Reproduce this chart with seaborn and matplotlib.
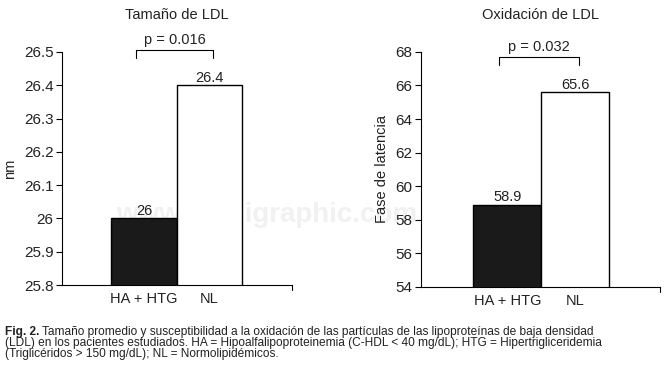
import matplotlib
matplotlib.use('Agg')
import matplotlib.pyplot as plt
import seaborn as sns
import pandas as pd

groups = ['HA + HTG', 'NL']
size_nm = [26.0, 26.4]
size_labels = ['26', '26.4']
latency = [58.9, 65.6]
latency_labels = ['58.9', '65.6']
size_ticks = [25.8, 25.9, 26.0, 26.1, 26.2, 26.3, 26.4, 26.5]
size_ticklabels = ['25.8', '25.9', '26', '26.1', '26.2', '26.3', '26.4', '26.5']
latency_ticks = [54, 56, 58, 60, 62, 64, 66, 68]

sns.set_style('white')
plt.rcParams['font.family'] = ['Liberation Sans', 'DejaVu Sans']
txt = '#222222'
colors = ['#1a1a1a', '#ffffff']
fs = 10.5

fig = plt.figure(figsize=(6.67, 3.79), dpi=100)
ax1 = fig.add_axes([0.093, 0.248, 0.345, 0.615])
ax2 = fig.add_axes([0.631, 0.243, 0.358, 0.620])


def panel(ax, vals, labels, ticks, ticklabels, ylim, xlim, title, ylabel, p_text, br_y, br_h, lab_off):
    df = pd.DataFrame({'g': groups, 'v': vals})
    sns.barplot(data=df, x='g', y='v', hue='g', palette=colors, edgecolor='black',
                linewidth=1.0, width=1.0, legend=False, ax=ax, zorder=2)
    ax.set_facecolor('none')
    ax.set_ylim(*ylim)
    ax.set_xlim(*xlim)
    ax.set_yticks(ticks)
    ax.set_yticklabels(ticklabels, fontsize=11, color=txt)
    ax.set_xticks([0, 1])
    ax.set_xticklabels(groups, fontsize=fs, color=txt)
    ax.tick_params(axis='x', length=0, pad=5)
    ax.tick_params(axis='y', length=4, width=0.8, color='black', pad=2, direction='out', left=True)
    for s in ['top', 'right']:
        ax.spines[s].set_visible(False)
    for s in ['left', 'bottom']:
        ax.spines[s].set_color('black')
        ax.spines[s].set_linewidth(0.8)
    ax.set_xlabel('')
    ax.set_ylabel(ylabel, fontsize=fs, color=txt, labelpad=5)
    ax.set_title(title, fontsize=fs, color=txt, pad=24)
    for i, (v, l) in enumerate(zip(vals, labels)):
        ax.text(i, v + lab_off, l, ha='center', va='bottom', fontsize=fs, color=txt)
    # significance bracket
    x0, x1 = -0.12, 1.05
    ax.plot([x0, x0, x1, x1], [br_y - br_h, br_y, br_y, br_y - br_h], color='black',
            lw=0.8, clip_on=False)
    ax.text((x0 + x1) / 2, br_y + br_h * 0.3, p_text, ha='center', va='bottom',
            fontsize=fs, color=txt, clip_on=False)
    # end tick on x axis
    ax.plot([xlim[1], xlim[1]], [ylim[0], ylim[0] - (ylim[1] - ylim[0]) * 0.02],
            color='black', lw=0.8, clip_on=False)


panel(ax1, size_nm, size_labels, size_ticks, size_ticklabels, (25.8, 26.5), (-1.25, 2.26),
      'Tamaño de LDL', 'nm', 'p = 0.016', 26.506, 0.025, 0.001)
panel(ax2, latency, latency_labels, latency_ticks, [str(t) for t in latency_ticks], (54, 68),
      (-1.27, 2.24), 'Oxidación de LDL', 'Fase de latencia', 'p = 0.032', 67.7, 0.5, 0.03)

# faint watermark behind the bars
fig.text(0.40, 0.433, 'www.medigraphic.com', fontsize=20, fontweight='bold', color='#f1f1f1',
         ha='center', va='center', zorder=-1)

cap_fs = 8.6
y1 = 0.125
dy = 0.0295
bold = fig.text(0.008, y1, 'Fig. 2.', fontsize=cap_fs, fontweight='bold', color=txt, va='center')
r = fig.canvas.get_renderer()
bw = bold.get_window_extent(renderer=r).width / fig.bbox.width
fig.text(0.008 + bw + 0.004, y1,
         'Tamaño promedio y susceptibilidad a la oxidación de las partículas de las lipoproteínas de baja densidad',
         fontsize=cap_fs, color=txt, va='center')
fig.text(0.008, y1 - dy,
         '(LDL) en los pacientes estudiados. HA = Hipoalfalipoproteinemia (C-HDL < 40 mg/dL); HTG = Hipertrigliceridemia',
         fontsize=cap_fs, color=txt, va='center')
fig.text(0.008, y1 - 2 * dy, '(Triglicéridos > 150 mg/dL); NL = Normolipidémicos.',
         fontsize=cap_fs, color=txt, va='center')

fig.savefig('out.png', dpi=100, facecolor='white')
